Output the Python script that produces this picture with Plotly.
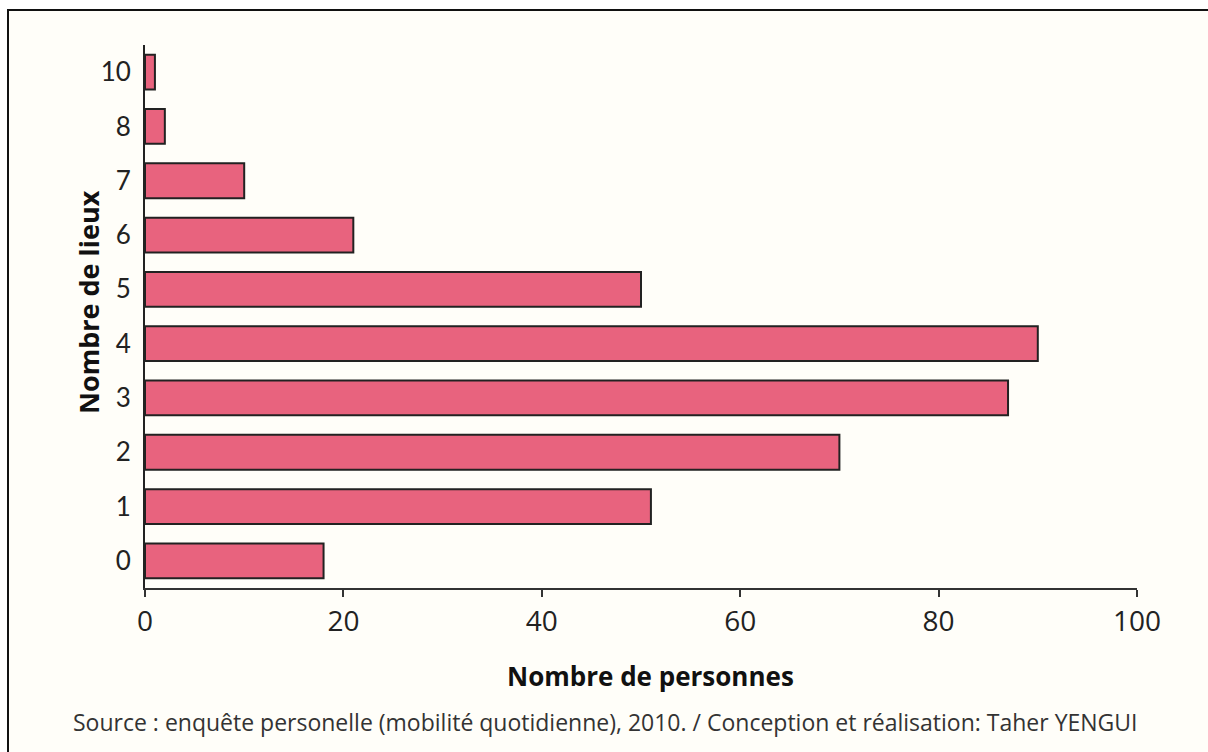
import plotly.graph_objects as go

# Données
lieux = ["0", "1", "2", "3", "4", "5", "6", "7", "8", "10"]
personnes = [18, 51, 70, 87, 90, 50, 21, 10, 2, 1]

x_ticks = [0, 20, 40, 60, 80, 100]

bar_color = "#E8637E"
W, H = 1208, 752
margin = dict(l=145, r=71, t=45, b=164)
pw = W - margin["l"] - margin["r"]
ph = H - margin["t"] - margin["b"]


def px_x(p):
    return (p - margin["l"]) / pw


def px_y(p):
    return 1 - (p - margin["t"]) / ph


fig = go.Figure()
fig.add_trace(go.Bar(
    x=personnes,
    y=lieux,
    orientation="h",
    marker=dict(color=bar_color, line=dict(color="#222222", width=2)),
    width=0.64,
    hoverinfo="x+y",
))

fig.update_layout(
    width=W, height=H,
    margin=margin,
    paper_bgcolor="white",
    plot_bgcolor="rgba(0,0,0,0)",
    showlegend=False,
    font=dict(family="Lato, sans-serif", color="#222222"),
    xaxis=dict(
        range=[0, 100],
        tickvals=x_ticks,
        ticks="outside", ticklen=7, tickwidth=2, tickcolor="#333",
        showline=True, linecolor="#333", linewidth=2,
        showgrid=False, zeroline=False,
        tickfont=dict(size=28, family="Open Sans, sans-serif", color="#222"),
    ),
    yaxis=dict(
        type="category",
        categoryorder="array", categoryarray=lieux,
        range=[-0.5, 9.5],
        ticks="outside", ticklen=7, tickcolor="rgba(0,0,0,0)",
        showline=True, linecolor="#222", linewidth=2,
        showgrid=False, zeroline=False,
        tickfont=dict(size=26, family="Lato, sans-serif", color="#222"),
    ),
    shapes=[dict(
        type="rect", xref="paper", yref="paper",
        x0=px_x(8), x1=px_x(1230), y0=px_y(780), y1=px_y(10),
        line=dict(color="#111", width=2), fillcolor="#fffef9", layer="below",
    )],
    annotations=[
        dict(text="<b>Nombre de personnes</b>",
             xref="paper", yref="paper", x=px_x(650), y=px_y(676),
             xanchor="center", yanchor="middle", showarrow=False,
             font=dict(size=26, family="Open Sans, sans-serif", color="#111")),
        dict(text="<b>Nombre de lieux</b>",
             xref="paper", yref="paper", x=px_x(88), y=px_y(302),
             xanchor="center", yanchor="middle", showarrow=False, textangle=-90,
             font=dict(size=27, family="Open Sans, sans-serif", color="#111")),
        dict(text="Source : enquête personelle (mobilité quotidienne), 2010. / Conception et réalisation: Taher YENGUI",
             xref="paper", yref="paper", x=px_x(605), y=px_y(722),
             xanchor="center", yanchor="middle", showarrow=False,
             font=dict(size=23, family="Open Sans, sans-serif", color="#333")),
    ],
)

fig.write_html("out.html", config={"displayModeBar": False},
               post_script="document.body.style.margin='0';")
